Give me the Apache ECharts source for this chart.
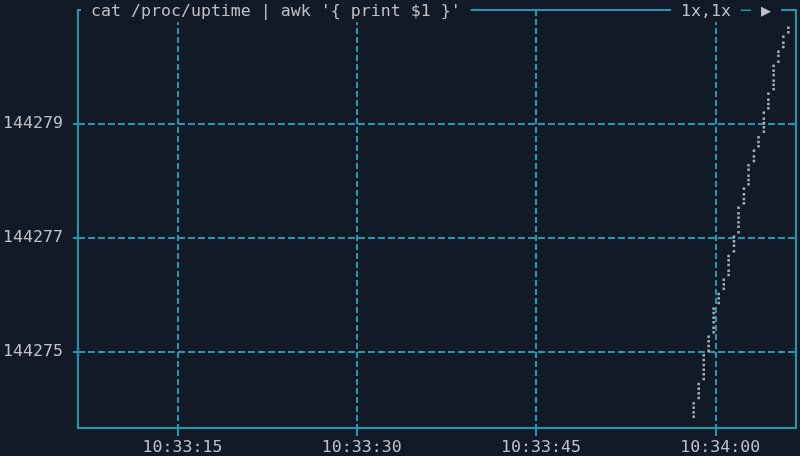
<!DOCTYPE html>
<html>
<head>
<meta charset="utf-8">
<script src="https://cdn.jsdelivr.net/npm/echarts@6/dist/echarts.min.js"></script>
<style>
html,body{margin:0;padding:0;background:#131a27;}
#c{width:800px;height:456px;}
</style>
</head>
<body>
<div id="c"></div>
<script>
// Column sample times (seconds since midnight) of the braille dot columns
const dotTimes = [38038.19, 38038.61, 38039.03, 38039.44, 38039.86, 38040.28, 38040.71,
  38041.11, 38041.56, 38041.94, 38042.39, 38042.78, 38043.23, 38043.61, 38044.06,
  38044.44, 38044.88, 38045.28, 38045.69, 38046.11];
// Uptime values of the dots in each column
const dotValues = [
  [144274.100, 144274.023, 144273.942, 144273.865],
  [144274.439, 144274.356, 144274.275, 144274.193],
  [144274.942, 144274.860, 144274.772, 144274.689, 144274.609, 144274.526],
  [144275.268, 144275.188, 144275.105, 144275.023],
  [144275.760, 144275.684, 144275.602, 144275.521, 144275.426, 144275.346],
  [144276.018, 144275.942, 144275.860],
  [144276.268, 144276.188, 144276.109],
  [144276.684, 144276.609, 144276.526, 144276.426, 144276.351],
  [144277.023, 144276.942, 144276.865, 144276.767],
  [144277.532, 144277.433, 144277.356, 144277.275, 144277.198, 144277.100],
  [144277.865, 144277.767, 144277.684, 144277.609],
  [144278.275, 144278.198, 144278.093, 144278.018, 144277.942],
  [144278.532, 144278.430, 144278.351],
  [144278.767, 144278.684, 144278.609],
  [144279.198, 144279.093, 144279.018, 144278.942, 144278.865],
  [144279.532, 144279.426, 144279.351, 144279.275],
  [144280.021, 144279.935, 144279.860, 144279.760, 144279.688, 144279.611],
  [144280.268, 144280.198, 144280.093],
  [144280.532, 144280.426, 144280.351],
  [144280.689, 144280.609]
];
const xTicks = [37995, 38010, 38025, 38040];   // 10:33:15 ... 10:34:00
const yTicks = [144275, 144277, 144279];
const titleText = "cat /proc/uptime | awk '{ print $1 }'";

const BG = '#131a27', FRAME = '#1c9ab0', TXT = '#bcc0c6', FONT = 'DejaVu Sans Mono', FS = 16.6;

const pts = [];
dotTimes.forEach((t, i) => dotValues[i].forEach(v => pts.push([t, v])));

function hms(s) {
  const h = Math.floor(s / 3600), m = Math.floor((s % 3600) / 60), sec = Math.round(s % 60);
  const p = n => (n < 10 ? '0' : '') + n;
  return p(h) + ':' + p(m) + ':' + p(sec);
}

const chart = echarts.init(document.getElementById('c'), null, {renderer: 'canvas'});
chart.setOption({
  backgroundColor: BG,
  animation: false,
  title: [{
    text: titleText,
    left: 81, top: 2,
    padding: [1, 10, 1, 10],
    backgroundColor: BG,
    textStyle: {color: TXT, fontFamily: FONT, fontSize: FS, fontWeight: 'normal', lineHeight: 18}
  }, {
    text: '{t|1x,1x} {d|─} {t|▶}',
    right: 19, top: 2,
    padding: [1, 10, 1, 10],
    backgroundColor: BG,
    textStyle: {
      color: TXT, fontFamily: FONT, fontSize: FS, fontWeight: 'normal', lineHeight: 18,
      rich: {
        t: {color: TXT, fontFamily: FONT, fontSize: FS, lineHeight: 18},
        d: {color: FRAME, fontFamily: FONT, fontSize: FS, lineHeight: 18}
      }
    }
  }],
  grid: {
    left: 76, right: 4, top: 10, bottom: 28,
    show: true, borderColor: FRAME, borderWidth: 2, backgroundColor: 'transparent'
  },
  xAxis: {
    type: 'value', min: 37986.667, max: 38046.75,
    axisLine: {show: false},
    axisTick: {show: true, customValues: xTicks, length: 8, lineStyle: {color: FRAME, width: 2}},
    axisLabel: {
      customValues: xTicks, color: TXT, fontFamily: FONT, fontSize: FS, margin: 11,
      padding: [0, 0, 0, 10],
      formatter: v => hms(v)
    },
    splitLine: {show: true, lineStyle: {color: FRAME, width: 2, type: [6, 3]}}
  },
  yAxis: {
    type: 'value', min: 144273.667, max: 144281,
    axisLine: {show: false},
    axisTick: {show: true, customValues: yTicks, length: 5, lineStyle: {color: FRAME, width: 2}},
    axisLabel: {
      customValues: yTicks, color: TXT, fontFamily: FONT, fontSize: FS, margin: 15,
      formatter: v => String(v)
    },
    splitLine: {show: true, lineStyle: {color: FRAME, width: 2, type: [7, 3]}}
  },
  series: [{
    type: 'scatter',
    data: pts,
    symbol: 'rect',
    symbolSize: [2.5, 2.5],
    itemStyle: {color: '#d2d2d2'},
    silent: true
  }]
});
</script>
</body>
</html>
